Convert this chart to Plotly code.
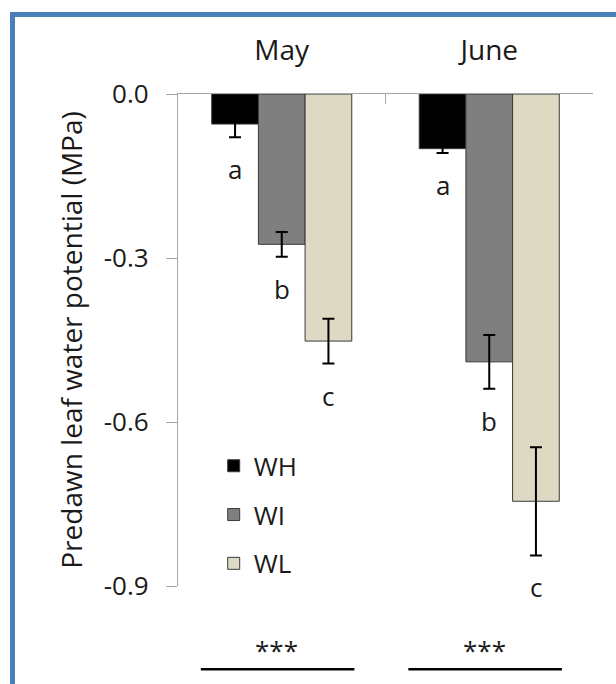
import plotly.graph_objects as go

# ---- data ----
months = ["May", "June"]
treatments = ["WH", "WI", "WL"]
wh_values = [-0.055, -0.100]
wi_values = [-0.275, -0.490]
wl_values = [-0.452, -0.745]
wh_err = [0.024, 0.008]
wi_err = [0.0225, 0.049]
wl_err = [0.041, 0.099]
wh_letters = ["a", "a"]
wi_letters = ["b", "b"]
wl_letters = ["c", "c"]
sig_labels = ["***", "***"]
y_ticks = [0.0, -0.3, -0.6, -0.9]

# ---- styles ----
colors = ["#000000", "#7f7f7f", "#ddd9c3"]
FONT = "Open Sans"
TXT = "#1a1a1a"
AX = "#a6a6a6"
BARGAP = 0.325

series = [
    (treatments[0], wh_values, wh_err, wh_letters),
    (treatments[1], wi_values, wi_err, wi_letters),
    (treatments[2], wl_values, wl_err, wl_letters),
]

fig = go.Figure()
for k, (name, vals, errs, _) in enumerate(series):
    fig.add_trace(go.Bar(
        x=months, y=vals, name=name, legendgroup=name,
        marker=dict(color=colors[k], line=dict(color="#3a3a3a", width=1)),
        error_y=dict(type="data", array=errs, visible=True, color="#000000",
                     thickness=2, width=6),
    ))

# significance letters under each bar
bw = (1 - BARGAP) / 3
annotations = []
for k, (name, vals, errs, letters) in enumerate(series):
    for i, (v, e, t) in enumerate(zip(vals, errs, letters)):
        annotations.append(dict(
            x=i + (k - 1) * bw, y=v - e, xref="x", yref="y", text=t,
            showarrow=False, yshift=-32, yanchor="middle",
            font=dict(family=FONT, size=26, color=TXT)))

# bottom significance lines with ***
shapes = []
for i, s in enumerate(sig_labels):
    shapes.append(dict(type="line", xref="x", yref="paper",
                       x0=i - 0.39, x1=i + 0.35, y0=-0.169, y1=-0.169,
                       line=dict(color="#000000", width=2.5)))
    annotations.append(dict(x=i - 0.025, y=-0.169, xref="x", yref="paper",
                            text=s, showarrow=False, yanchor="bottom", yshift=-1,
                            font=dict(family=FONT, size=26, color=TXT)))

# blue frame
shapes.append(dict(type="rect", xref="paper", yref="paper",
                   x0=-0.3988, x1=1.3, y0=-0.5, y1=1.1616,
                   line=dict(color="#4a7ebb", width=5), layer="below"))

fig.update_layout(
    width=616, height=684,
    margin=dict(l=178, r=23, t=94, b=98),
    paper_bgcolor="white", plot_bgcolor="white",
    barmode="group", bargap=BARGAP, bargroupgap=0,
    font=dict(family=FONT, size=26, color=TXT),
    legend=dict(x=0.086, xanchor="left", y=0.292, yanchor="top",
                bgcolor="rgba(0,0,0,0)", tracegroupgap=12,
                font=dict(family=FONT, size=26, color=TXT)),
    annotations=annotations, shapes=shapes,
    xaxis=dict(side="top", showline=True, linecolor=AX, linewidth=1.3,
               ticks="inside", ticklen=10, tickcolor=AX, tickwidth=1.3,
               tickson="boundaries", showgrid=False, zeroline=False,
               tickfont=dict(family=FONT, size=28, color=TXT),
               ticklabelstandoff=22),
    yaxis=dict(range=[-0.9, 0], showline=True, linecolor=AX, linewidth=1.3,
               ticks="outside", ticklen=11, tickcolor=AX, tickwidth=1.3,
               tickvals=y_ticks, ticktext=[f"{v:.1f}" for v in y_ticks],
               showgrid=False, zeroline=False,
               tickfont=dict(family=FONT, size=26, color=TXT),
               ticklabelstandoff=12,
               title=dict(text="Predawn leaf water potential (MPa)",
                          font=dict(family=FONT, size=28, color=TXT),
                          standoff=12)),
)

fig.write_html("out.html", config={"displayModeBar": False},
               post_script="document.body.style.margin='0';document.body.style.overflow='hidden';")
